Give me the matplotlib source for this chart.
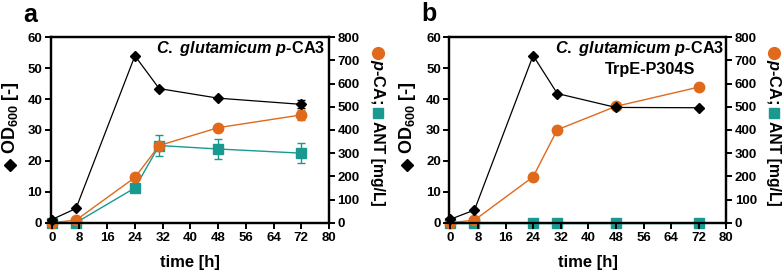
import matplotlib
matplotlib.use("Agg")
import matplotlib.pyplot as plt
from matplotlib.lines import Line2D

plt.rcParams['font.family'] = ['Liberation Sans', 'DejaVu Sans']
plt.rcParams['font.weight'] = 'bold'
plt.rcParams['mathtext.fontset'] = 'custom'
plt.rcParams['mathtext.rm'] = 'Liberation Sans:bold'
plt.rcParams['mathtext.bf'] = 'Liberation Sans:bold'
plt.rcParams['mathtext.it'] = 'Liberation Sans:bold:italic'
plt.rcParams['mathtext.default'] = 'bf'

# ---- data ----
time_a = [0, 7, 24, 31, 48, 72]
od_a = [1.0, 4.6, 54.0, 43.4, 40.3, 38.3]
od_a_err = [0, 0, 0, 0, 0, 1.3]
pca_a = [0, 11, 195, 333, 410, 465]
pca_a_err = [0, 0, 0, 8, 0, 22]
ant_a = [0, 0, 150, 333, 318, 300]
ant_a_err = [0, 0, 0, 45, 43, 44]

time_b = [0, 7, 24, 31, 48, 72]
od_b = [1.1, 4.1, 54.1, 41.8, 37.3, 37.2]
pca_b = [0, 11, 198, 401, 502, 585]
ant_b = [0, 0, 0, 0, 0, 0]

xticks = list(range(0, 81, 8))
yticks_left = list(range(0, 61, 10))
yticks_right = list(range(0, 801, 100))

ORANGE = '#E0691C'
TEAL = '#19998F'
BLACK = '#000000'

W, H = 784, 275
fig = plt.figure(figsize=(W / 100, H / 100), dpi=100)

TICK_FS = 9.5
LABEL_FS = 12
NOTE_FS = 11.7


def fx(x):
    return x / W


def fy(y):
    return 1 - y / H


def px_axes(l, r, t, b):
    return [l / W, 1 - b / H, (r - l) / W, (b - t) / H]


def style(ax):
    for s in ax.spines.values():
        s.set_linewidth(1.6)
    ax.tick_params(width=1.4, length=4, labelsize=TICK_FS, pad=2)
    for lab in ax.get_xticklabels() + ax.get_yticklabels():
        lab.set_fontweight('bold')


def marker(x, y, m, color, ms):
    fig.add_artist(Line2D([fx(x)], [fy(y)], marker=m, color=color, ms=ms,
                          linestyle='none', transform=fig.transFigure))


def panel(rect, t, od, pca, ant, od_err=None, pca_err=None, ant_err=None):
    ax = fig.add_axes(rect)
    ax2 = ax.twinx()
    ax.set_zorder(ax2.get_zorder() + 1)
    ax.patch.set_visible(False)
    ax2.errorbar(t, ant, yerr=ant_err, color=TEAL, marker='s', ms=6.5, lw=1.0,
                 capsize=3, capthick=1.0, elinewidth=1.0, ecolor=TEAL, clip_on=False, zorder=3)
    ax2.errorbar(t, pca, yerr=pca_err, color=ORANGE, marker='o', ms=7.5, lw=1.0,
                 capsize=3, capthick=1.0, elinewidth=1.0, ecolor=ORANGE, clip_on=False, zorder=4)
    ax.errorbar(t, od, yerr=od_err, color=BLACK, marker='D', ms=5, lw=0.9,
                capsize=3, capthick=1.0, elinewidth=1.0, clip_on=False, zorder=5)
    ax.set_xlim(-0.3, 80)
    ax.set_ylim(-0.2, 60)
    ax2.set_ylim(-0.2 * 800 / 60, 800)
    ax.set_xticks(xticks)
    ax.set_yticks(yticks_left)
    ax2.set_yticks(yticks_right)
    style(ax)
    style(ax2)
    ax.set_xlabel('time [h]', fontsize=LABEL_FS, fontweight='bold', labelpad=8)
    return ax, ax2


ax_a, ax_a2 = panel(px_axes(50.7, 329, 37.3, 223.3), time_a, od_a, pca_a, ant_a,
                    od_a_err, pca_a_err, ant_a_err)
ax_b, ax_b2 = panel(px_axes(449.3, 726.3, 37.3, 223.3), time_b, od_b, pca_b, ant_b)

fig.text(fx(30), fy(15), 'a', fontsize=18, fontweight='bold', ha='center', va='center')
fig.text(fx(392 + 37), fy(14), 'b', fontsize=18, fontweight='bold', ha='center', va='center')

# left y labels
for x0 in (10, 392 + 14.5):
    marker(x0, 165, 'D', BLACK, 6.5)
    fig.text(fx(x0 + 0.5), fy(118), r'OD$_{600}$ [-]', rotation=90, fontsize=13,
             fontweight='bold', ha='center', va='center')

# right y labels
for x0 in (378, 392 + 382):
    marker(x0, 52.5, 'o', ORANGE, 8.5)
    fig.text(fx(x0), fy(59), r'$\mathit{p}$-CA;', rotation=270, fontsize=11.8,
             fontweight='bold', ha='center', va='top')
    marker(x0, 113, 's', TEAL, 7.2)
    fig.text(fx(x0), fy(121), 'ANT [mg/L]', rotation=270, fontsize=11.3,
             fontweight='bold', ha='center', va='top')

# strain annotations
for xr in (325, 392 + 332):
    fig.text(fx(xr), fy(49), r'$\mathit{C.\ glutamicum\ p}$-CA3', fontsize=NOTE_FS,
             fontweight='bold', ha='right', va='center')
fig.text(fx(392 + 258), fy(69), 'TrpE-P304S', fontsize=NOTE_FS, fontweight='bold',
         ha='center', va='center')

fig.savefig('out.png', dpi=100)
